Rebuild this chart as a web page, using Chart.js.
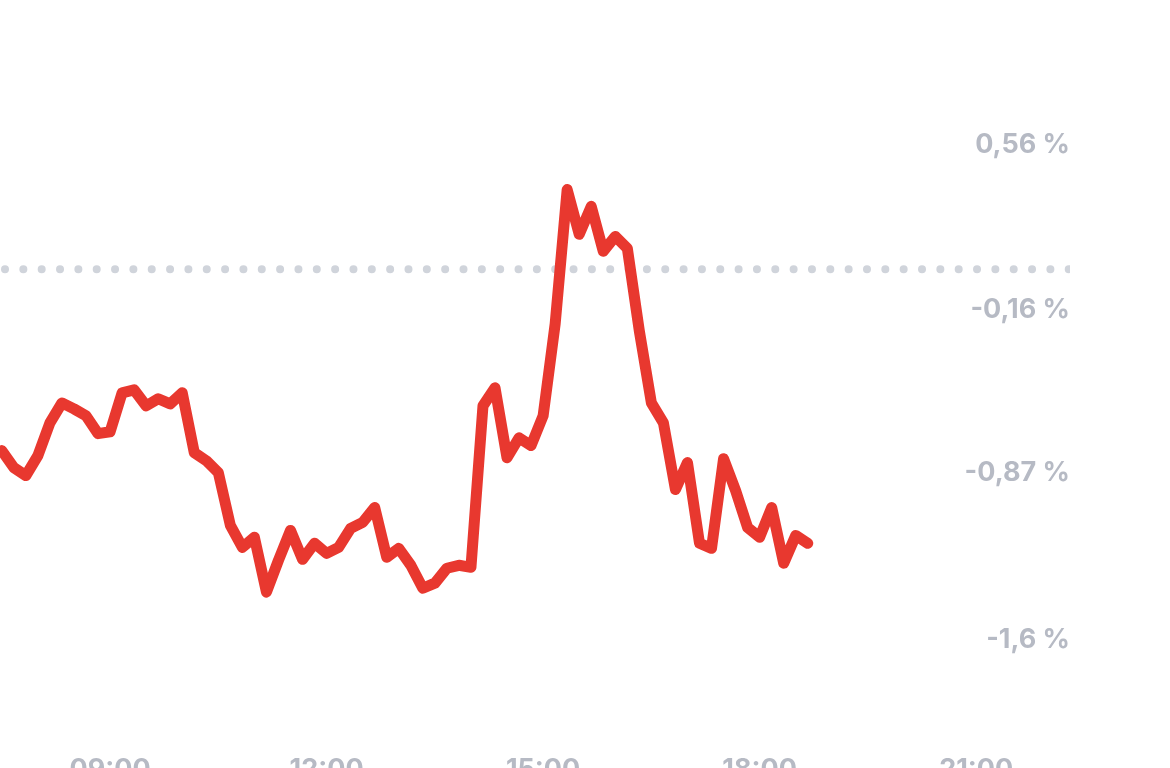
<!DOCTYPE html>
<html>
<head>
<meta charset="utf-8">
<script src="https://cdn.jsdelivr.net/npm/chart.js@4.4.1/dist/chart.umd.min.js"></script>
<style>
  html, body { margin: 0; padding: 0; background: #ffffff; overflow: hidden; }
  #wrap { position: relative; width: 1170px; height: 786px; }
</style>
</head>
<body>
<div id="wrap"><canvas id="c"></canvas></div>
<script>
// Time of each point, minutes since midnight (10-minute steps from 07:30)
const startMinute = 450;
const stepMinutes = 10;
// Percent change series
const changePct = [
  -0.774, -0.848, -0.883, -0.796, -0.653, -0.566, -0.592, -0.622, -0.700, -0.692,
  -0.522, -0.509, -0.579, -0.548, -0.570, -0.522, -0.783, -0.818, -0.870, -1.100,
  -1.196, -1.152, -1.391, -1.252, -1.122, -1.248, -1.178, -1.222, -1.196, -1.113,
  -1.087, -1.022, -1.239, -1.200, -1.274, -1.374, -1.352, -1.287, -1.274, -1.283,
  -0.579, -0.500, -0.805, -0.718, -0.752, -0.622, -0.222, 0.364, 0.169, 0.291,
  0.095, 0.160, 0.108, -0.253, -0.566, -0.653, -0.944, -0.826, -1.178, -1.200,
  -0.809, -0.948, -1.109, -1.152, -1.022, -1.265, -1.144, -1.178
];
// Reference (previous close) level shown by the dotted line
const referenceLevel = 0.017;
// Axis ticks
const xTickValues = [540, 720, 900, 1080, 1260];
const xTickLabels = ["09:00", "12:00", "15:00", "18:00", "21:00"];
const yTickValues = [0.56, -0.16, -0.87, -1.6];
const yTickLabels = ["0,56 %", "-0,16 %", "-0,87 %", "-1,6 %"];

const xMin = 448.5, xMax = 1338;
const linePoints = changePct.map((v, i) => ({ x: startMinute + i * stepMinutes, y: v }));
const refPoints = [{ x: xMin, y: referenceLevel }, { x: xMax, y: referenceLevel }];

const tickColor = '#b6bac4';
const tickFont = { family: 'Inter, "Noto Sans", sans-serif', size: 27, weight: '700' };

new Chart(document.getElementById('c'), {
  type: 'line',
  data: {
    datasets: [
      {
        data: refPoints,
        borderColor: '#d0d4db',
        borderWidth: 8,
        borderCapStyle: 'round',
        borderDash: [0.01, 18.33],
        borderDashOffset: -5,
        pointRadius: 0,
        tension: 0,
        order: 2
      },
      {
        data: linePoints,
        borderColor: '#e8382f',
        borderWidth: 11,
        borderCapStyle: 'round',
        borderJoinStyle: 'round',
        pointRadius: 0,
        tension: 0,
        order: 1
      }
    ]
  },
  options: {
    responsive: true,
    maintainAspectRatio: false,
    animation: false,
    layout: { padding: { left: 0, right: 100, top: 0, bottom: 0 } },
    plugins: { legend: { display: false }, tooltip: { enabled: false } },
    scales: {
      x: {
        type: 'linear',
        min: xMin,
        max: xMax,
        afterBuildTicks: (s) => { s.ticks = xTickValues.map(v => ({ value: v })); },
        ticks: {
          color: tickColor,
          font: tickFont,
          padding: 0,
          maxRotation: 0,
          autoSkip: false,
          callback: (v) => xTickLabels[xTickValues.indexOf(v)]
        },
        grid: { display: false, drawTicks: false },
        border: { display: false }
      },
      y: {
        position: 'right',
        min: -2.095,
        max: 1.12,
        afterBuildTicks: (s) => { s.ticks = yTickValues.map(v => ({ value: v })); },
        ticks: {
          mirror: true,
          padding: 0,
          color: tickColor,
          font: tickFont,
          callback: (v) => yTickLabels[yTickValues.indexOf(v)]
        },
        grid: { display: false, drawTicks: false },
        border: { display: false }
      }
    }
  }
});
</script>
</body>
</html>
